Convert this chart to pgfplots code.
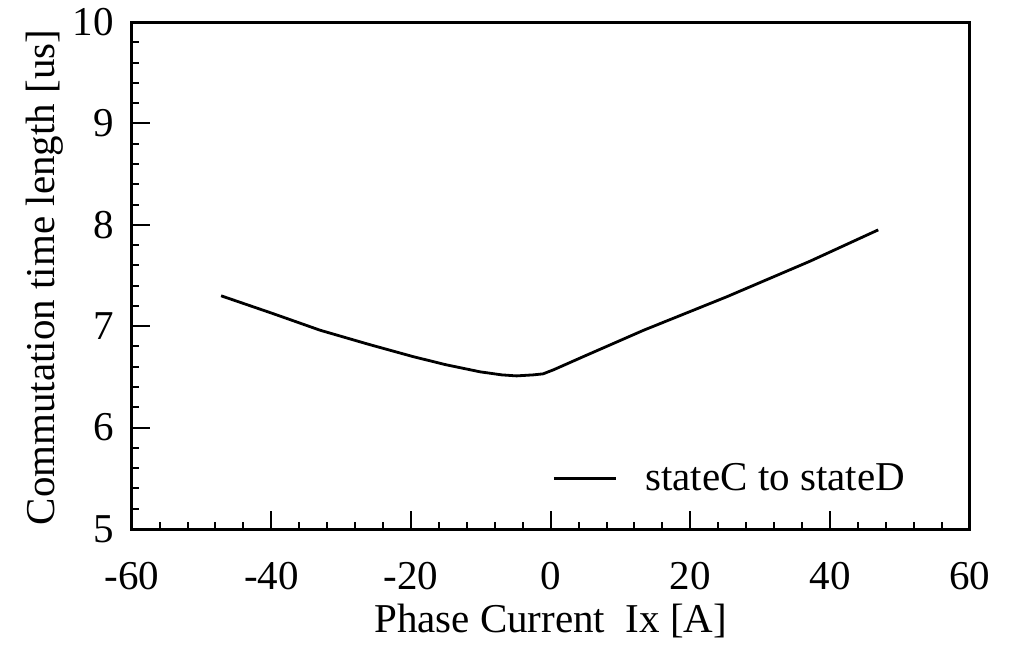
\documentclass[border=0pt]{standalone}
\usepackage{fontspec}
\setmainfont{Liberation Serif}
\usepackage{pgfplots}
\pgfplotsset{compat=1.18}

\newcommand{\chartfont}{\fontsize{20.5}{24}\selectfont}

\begin{document}
\begin{tikzpicture}
\path[use as bounding box] (-65.85pt,-58pt) rectangle (441.15pt,264.5pt);
\begin{axis}[
  at={(0pt,0pt)}, anchor=south west,
  scale only axis, width=419pt, height=253.5pt,
  xmin=-60, xmax=60, ymin=5, ymax=10,
  xtick={-60,-40,-20,0,20,40,60},
  xticklabels={-60,-40,-20,0,20,40,60},
  ytick={5,6,7,8,9,10},
  yticklabels={5,6,7,8,9,10},
  minor x tick num=4, minor y tick num=4,
  tick pos=left, tick align=inside,
  major tick length=9pt, minor tick length=3.5pt,
  tick style={line width=1pt, black},
  axis line style={line width=1.5pt},
  tick label style={font=\chartfont},
  xticklabel shift=13pt, yticklabel shift=5.5pt,
  xlabel={Phase Current\ \ Ix [A]},
  ylabel={Commutation time length [us]},
  label style={font=\chartfont},
  xlabel style={at={(axis description cs:0.5,-0.205)}, anchor=base},
  ylabel style={at={(axis description cs:-0.092,0.496)}, anchor=base},
  legend style={draw=none, fill=none, inner sep=0pt, font=\chartfont,
    at={(axis description cs:0.928,0.099)}, anchor=east},
  legend image code/.code={\draw[#1] (0pt,0pt) -- (31pt,0pt); \path (43pt,0pt);},
]
\addplot[black, line width=1.4pt, line join=round] coordinates {
  (-47.2,7.30) (-40,7.13) (-33,6.96) (-26,6.82) (-19.7,6.70) (-15,6.62)
  (-10.1,6.55) (-7,6.52) (-4.9,6.51) (-2.5,6.52) (-1.1,6.53) (0.4,6.57)
  (5,6.71) (13.3,6.96) (25.2,7.29) (37.1,7.64) (46.9,7.95)
};
\addlegendentry{stateC to stateD}
\end{axis}
\end{tikzpicture}
\end{document}
